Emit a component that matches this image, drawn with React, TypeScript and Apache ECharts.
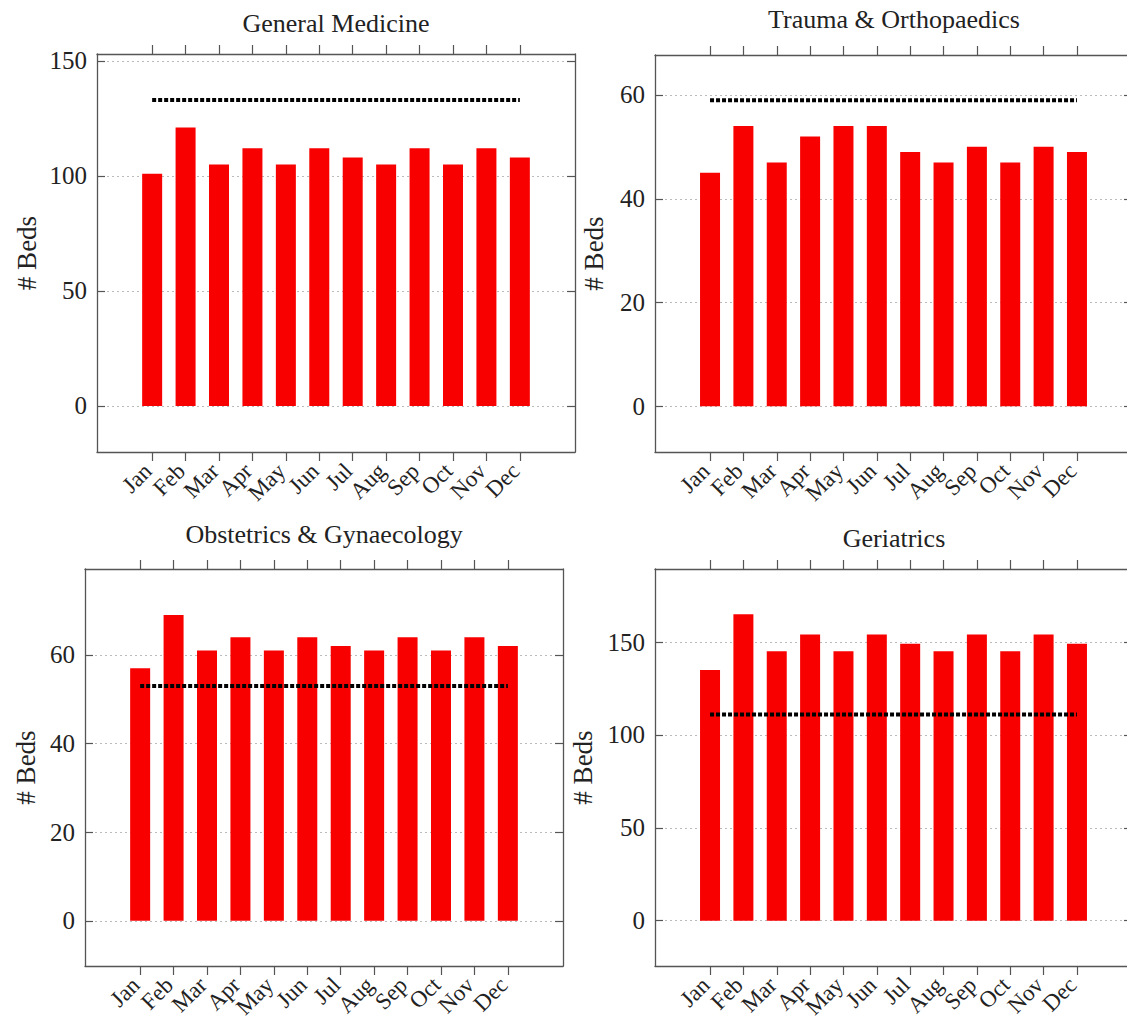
import React, { useEffect, useRef } from "react";
import * as echarts from "echarts";

const months = ["Jan", "Feb", "Mar", "Apr", "May", "Jun", "Jul", "Aug", "Sep", "Oct", "Nov", "Dec"];

const titles = ["General Medicine", "Trauma & Orthopaedics", "Obstetrics & Gynaecology", "Geriatrics"];

const genMedBeds = [101, 121, 105, 112, 105, 112, 108, 105, 112, 105, 112, 108];
const traumaBeds = [45, 54, 47, 52, 54, 54, 49, 47, 50, 47, 50, 49];
const obsGynBeds = [57, 69, 61, 64, 61, 64, 62, 61, 64, 61, 64, 62];
const geriatricsBeds = [135, 165, 145, 154, 145, 154, 149, 145, 154, 145, 154, 149];

const genMedTarget = 133;
const traumaTarget = 59;
const obsGynTarget = 53;
const geriatricsTarget = 111;

const genMedTicks = [0, 50, 100, 150];
const traumaTicks = [0, 20, 40, 60];
const obsGynTicks = [0, 20, 40, 60];
const geriatricsTicks = [0, 50, 100, 150];

const seriesValues = [genMedBeds, traumaBeds, obsGynBeds, geriatricsBeds];
const targets = [genMedTarget, traumaTarget, obsGynTarget, geriatricsTarget];
const yTicks = [genMedTicks, traumaTicks, obsGynTicks, geriatricsTicks];
const yRanges = [
  [-20, 153],
  [-8.8, 67.7],
  [-10.2, 79.4],
  [-24.4, 189.3],
];

// layout (px)
const panels = [
  { left: 97, top: 54, width: 478, height: 398, titleX: 336, titleY: 23, nameGap: 57 },
  { left: 655, top: 55, width: 477, height: 397, titleX: 894, titleY: 19, nameGap: 48 },
  { left: 85, top: 569, width: 478, height: 397, titleX: 324, titleY: 534, nameGap: 46 },
  { left: 655, top: 569, width: 477, height: 397, titleX: 894, titleY: 538, nameGap: 59 },
];

const FONT = "'Liberation Serif', 'DejaVu Serif', serif";
const TEXT = "#222";
const FRAME = "#555";
const monthIdx = months.map((_, i) => i);
// blank guard positions outside the month range so that no month label is auto-hidden
const labelPositions = [-1, ...monthIdx, months.length];

export default function App() {
  const ref = useRef<HTMLDivElement>(null);
  useEffect(() => {
    if (!ref.current) return;
    const chart = echarts.init(ref.current, undefined, { renderer: "svg" });
    const grid: any[] = [];
    const xAxis: any[] = [];
    const yAxis: any[] = [];
    const series: any[] = [];
    const graphic: any[] = [];
    panels.forEach((p, i) => {
      grid.push({
        left: p.left,
        top: p.top,
        width: p.width,
        height: p.height,
        containLabel: false,
        outerBoundsMode: "none",
      });
      const xBase = {
        type: "value",
        gridIndex: i,
        min: -1.65,
        max: 12.65,
        axisLine: { show: true, onZero: false, lineStyle: { color: FRAME, width: 1.3 } },
        axisTick: { show: true, inside: false, length: 9, customValues: monthIdx, lineStyle: { color: FRAME, width: 1.2 } },
        splitLine: { show: false },
      };
      xAxis.push({
        ...xBase,
        position: "bottom",
        axisLabel: {
          show: true,
          customValues: labelPositions,
          formatter: (v: number) => months[Math.round(v)] ?? "",
          rotate: 45,
          margin: 11,
          padding: [0, 6, 0, 0],
          hideOverlap: false,
          fontFamily: FONT,
          fontSize: 23,
          color: TEXT,
        },
      });
      xAxis.push({ ...xBase, position: "top", axisLabel: { show: false } });
      const [ymin, ymax] = yRanges[i];
      const yBase = {
        type: "value",
        gridIndex: i,
        min: ymin,
        max: ymax,
        axisLine: { show: true, onZero: false, lineStyle: { color: FRAME, width: 1.3 } },
        axisTick: { show: true, inside: true, length: 8, customValues: yTicks[i], lineStyle: { color: FRAME, width: 1.2 } },
      };
      yAxis.push({
        ...yBase,
        position: "left",
        name: "# Beds",
        nameLocation: "middle",
        nameGap: p.nameGap,
        nameTextStyle: { fontFamily: FONT, fontSize: 27, color: TEXT },
        axisLabel: {
          show: true,
          customValues: yTicks[i],
          margin: 10,
          fontFamily: FONT,
          fontSize: 25,
          color: TEXT,
        },
        splitLine: { show: true, lineStyle: { color: "#bbb", width: 1, type: [2, 3] } },
      });
      yAxis.push({ ...yBase, position: "right", axisLabel: { show: false }, splitLine: { show: false } });
      series.push({
        type: "bar",
        xAxisIndex: 2 * i,
        yAxisIndex: 2 * i,
        barWidth: 20,
        itemStyle: { color: "#f80000" },
        data: seriesValues[i].map((v, k) => [k, v]),
      });
      series.push({
        type: "line",
        xAxisIndex: 2 * i,
        yAxisIndex: 2 * i,
        symbol: "none",
        lineStyle: { color: "#000", width: 4, type: [4, 2], cap: "butt" },
        data: [
          [0, targets[i]],
          [11, targets[i]],
        ],
        z: 5,
      });
      graphic.push({
        type: "text",
        x: p.titleX,
        y: p.titleY,
        style: { text: titles[i], font: `26px ${FONT}`, fill: TEXT, textAlign: "center", textVerticalAlign: "middle" },
      });
    });
    chart.setOption({
      animation: false,
      backgroundColor: "#fff",
      grid,
      xAxis,
      yAxis,
      series,
      graphic,
    });
    return () => chart.dispose();
  }, []);
  return <div ref={ref} style={{ position: "absolute", left: 0, top: 0, width: 1127, height: 1021 }} />;
}
